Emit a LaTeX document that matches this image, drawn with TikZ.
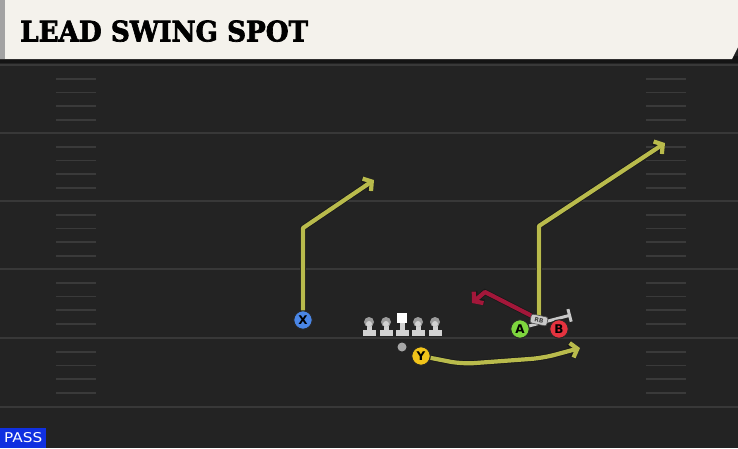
\documentclass[tikz,border=0pt]{standalone}
\usepackage{fontspec}
\setsansfont{DejaVu Sans}
\newfontfamily\titlefont{DejaVu Serif}[FakeBold=2.5]
\usetikzlibrary{arrows.meta}
\definecolor{fieldbg}{HTML}{232323}
\definecolor{yardline}{HTML}{383838}
\definecolor{hashc}{HTML}{3A3A3A}
\definecolor{cream}{HTML}{F4F2EC}
\definecolor{stripgray}{HTML}{A3A3A3}
\definecolor{shadowc}{HTML}{141414}
\definecolor{routeY}{HTML}{B9BB4C}
\definecolor{routeR}{HTML}{A3173A}
\definecolor{blockc}{HTML}{C9C9C9}
\definecolor{tokX}{HTML}{4A86E6}
\definecolor{tokY}{HTML}{F2C41A}
\definecolor{tokA}{HTML}{7ED63E}
\definecolor{tokB}{HTML}{E5333F}
\definecolor{passblue}{HTML}{1030E0}
\definecolor{linec}{HTML}{D2D2D2}
\definecolor{headc}{HTML}{9C9C9C}
\tikzset{
  yard/.style={draw=yardline, line width=2pt},
  hashmark/.style={draw=hashc, line width=1.8pt},
  token/.style={circle, draw=black!85, line width=1pt, minimum size=18.5pt, inner sep=0pt,
    font=\sffamily\bfseries\fontsize{12}{12}\selectfont, text=black},
  route/.style={draw=routeY, line width=4.2pt, line join=round,
    -{Straight Barb[length=6pt,width=15pt]},
    preaction={draw=black!90, line width=5.8pt}},
  redroute/.style={route, draw=routeR},
  blockline/.style={draw=blockc, line width=3pt, -{Bar[width=13pt,line width=3pt]}},
  badge/.style={fill=blockc, draw=black!70, line width=0.6pt, rounded corners=2pt,
    minimum width=17pt, minimum height=9pt, inner sep=0pt,
    font=\sffamily\bfseries\fontsize{6}{6}\selectfont, text=black!75},
}
\begin{document}
\begin{tikzpicture}[x=1pt,y=-1pt]
\useasboundingbox (0,0) rectangle (738,448);
% field
\fill[fieldbg] (0,0) rectangle (738,448);
\foreach \yy in {65,133,201,269,338,407}
  \draw[yard] (0,\yy) -- (738,\yy);
\foreach \bb in {65,133,201,269,338}
  \foreach \oo in {14,27.5,41,55} {
    \draw[hashmark] (56,\bb+\oo) -- (96,\bb+\oo);
    \draw[hashmark] (646,\bb+\oo) -- (686,\bb+\oo);
  }
% header
\fill[shadowc] (0,56) rectangle (738,63);
\fill[cream] (0,0) -- (738,0) -- (738,47) -- (732,59) -- (0,59) -- cycle;
\fill[stripgray] (0,0) rectangle (5,59);
\node[anchor=south west, inner sep=0pt] (title) at (20,42)
  {\resizebox{288pt}{21pt}{\titlefont\bfseries LEAD SWING SPOT}};
% line
\foreach \lx in {369,386,418,435} {
  \fill[linec] (\lx-6.5,330) rectangle (\lx+6.5,336);
  \fill[linec] (\lx-2.5,322) rectangle (\lx+2.5,331);
  \fill[headc] (\lx,322) circle (5);
  \fill[linec] (\lx,324) circle (3);
}
\fill[linec] (395.5,330) rectangle (408.5,336);
\fill[linec] (399.5,322) rectangle (404.5,331);
\fill[white] (397,312.5) rectangle (407,322.5);
\fill[gray!70] (402,347) circle (4.5);
% tokens
\node[token, fill=tokX] (X) at (303,320) {X};
\node[token, fill=tokY] (Y) at (421,356) {Y};
\coordinate (bk0) at (525,327);
\coordinate (bk) at (571,315);
\draw[blockline] (bk0) -- (bk);
\node[token, fill=tokA] (A) at (520,329) {A};
\node[token, fill=tokB] (B) at (559,329) {B};
\coordinate (rbc) at (539,320);
% routes
\coordinate (x1) at (303,228);
\coordinate (x2) at (374,180);
\draw[route] (X) -- (x1) -- (x2);
\coordinate (r0) at (539,316);
\coordinate (r1) at (539,226);
\coordinate (r2) at (665,143);
\draw[route] (r0) -- (r1) -- (r2);
\coordinate (m0) at (532,316);
\coordinate (m1) at (485,292);
\coordinate (m2) at (472,303);
\draw[redroute] (m0) -- (m1) -- (m2);
\coordinate (y1) at (462,364);
\coordinate (y2) at (543,358);
\coordinate (y3) at (580,348);
\draw[route, rounded corners=12pt] (Y) -- (y1) -- (y2) -- (y3);
\node[badge, rotate=-12] (RB) at (rbc) {RB};
% pass tag
\node[fill=passblue, anchor=south west, inner sep=0pt, minimum width=46pt, minimum height=20pt,
  text=white] (pass) at (0,448) {\resizebox{38pt}{10pt}{\sffamily PASS}};
\end{tikzpicture}
\end{document}
